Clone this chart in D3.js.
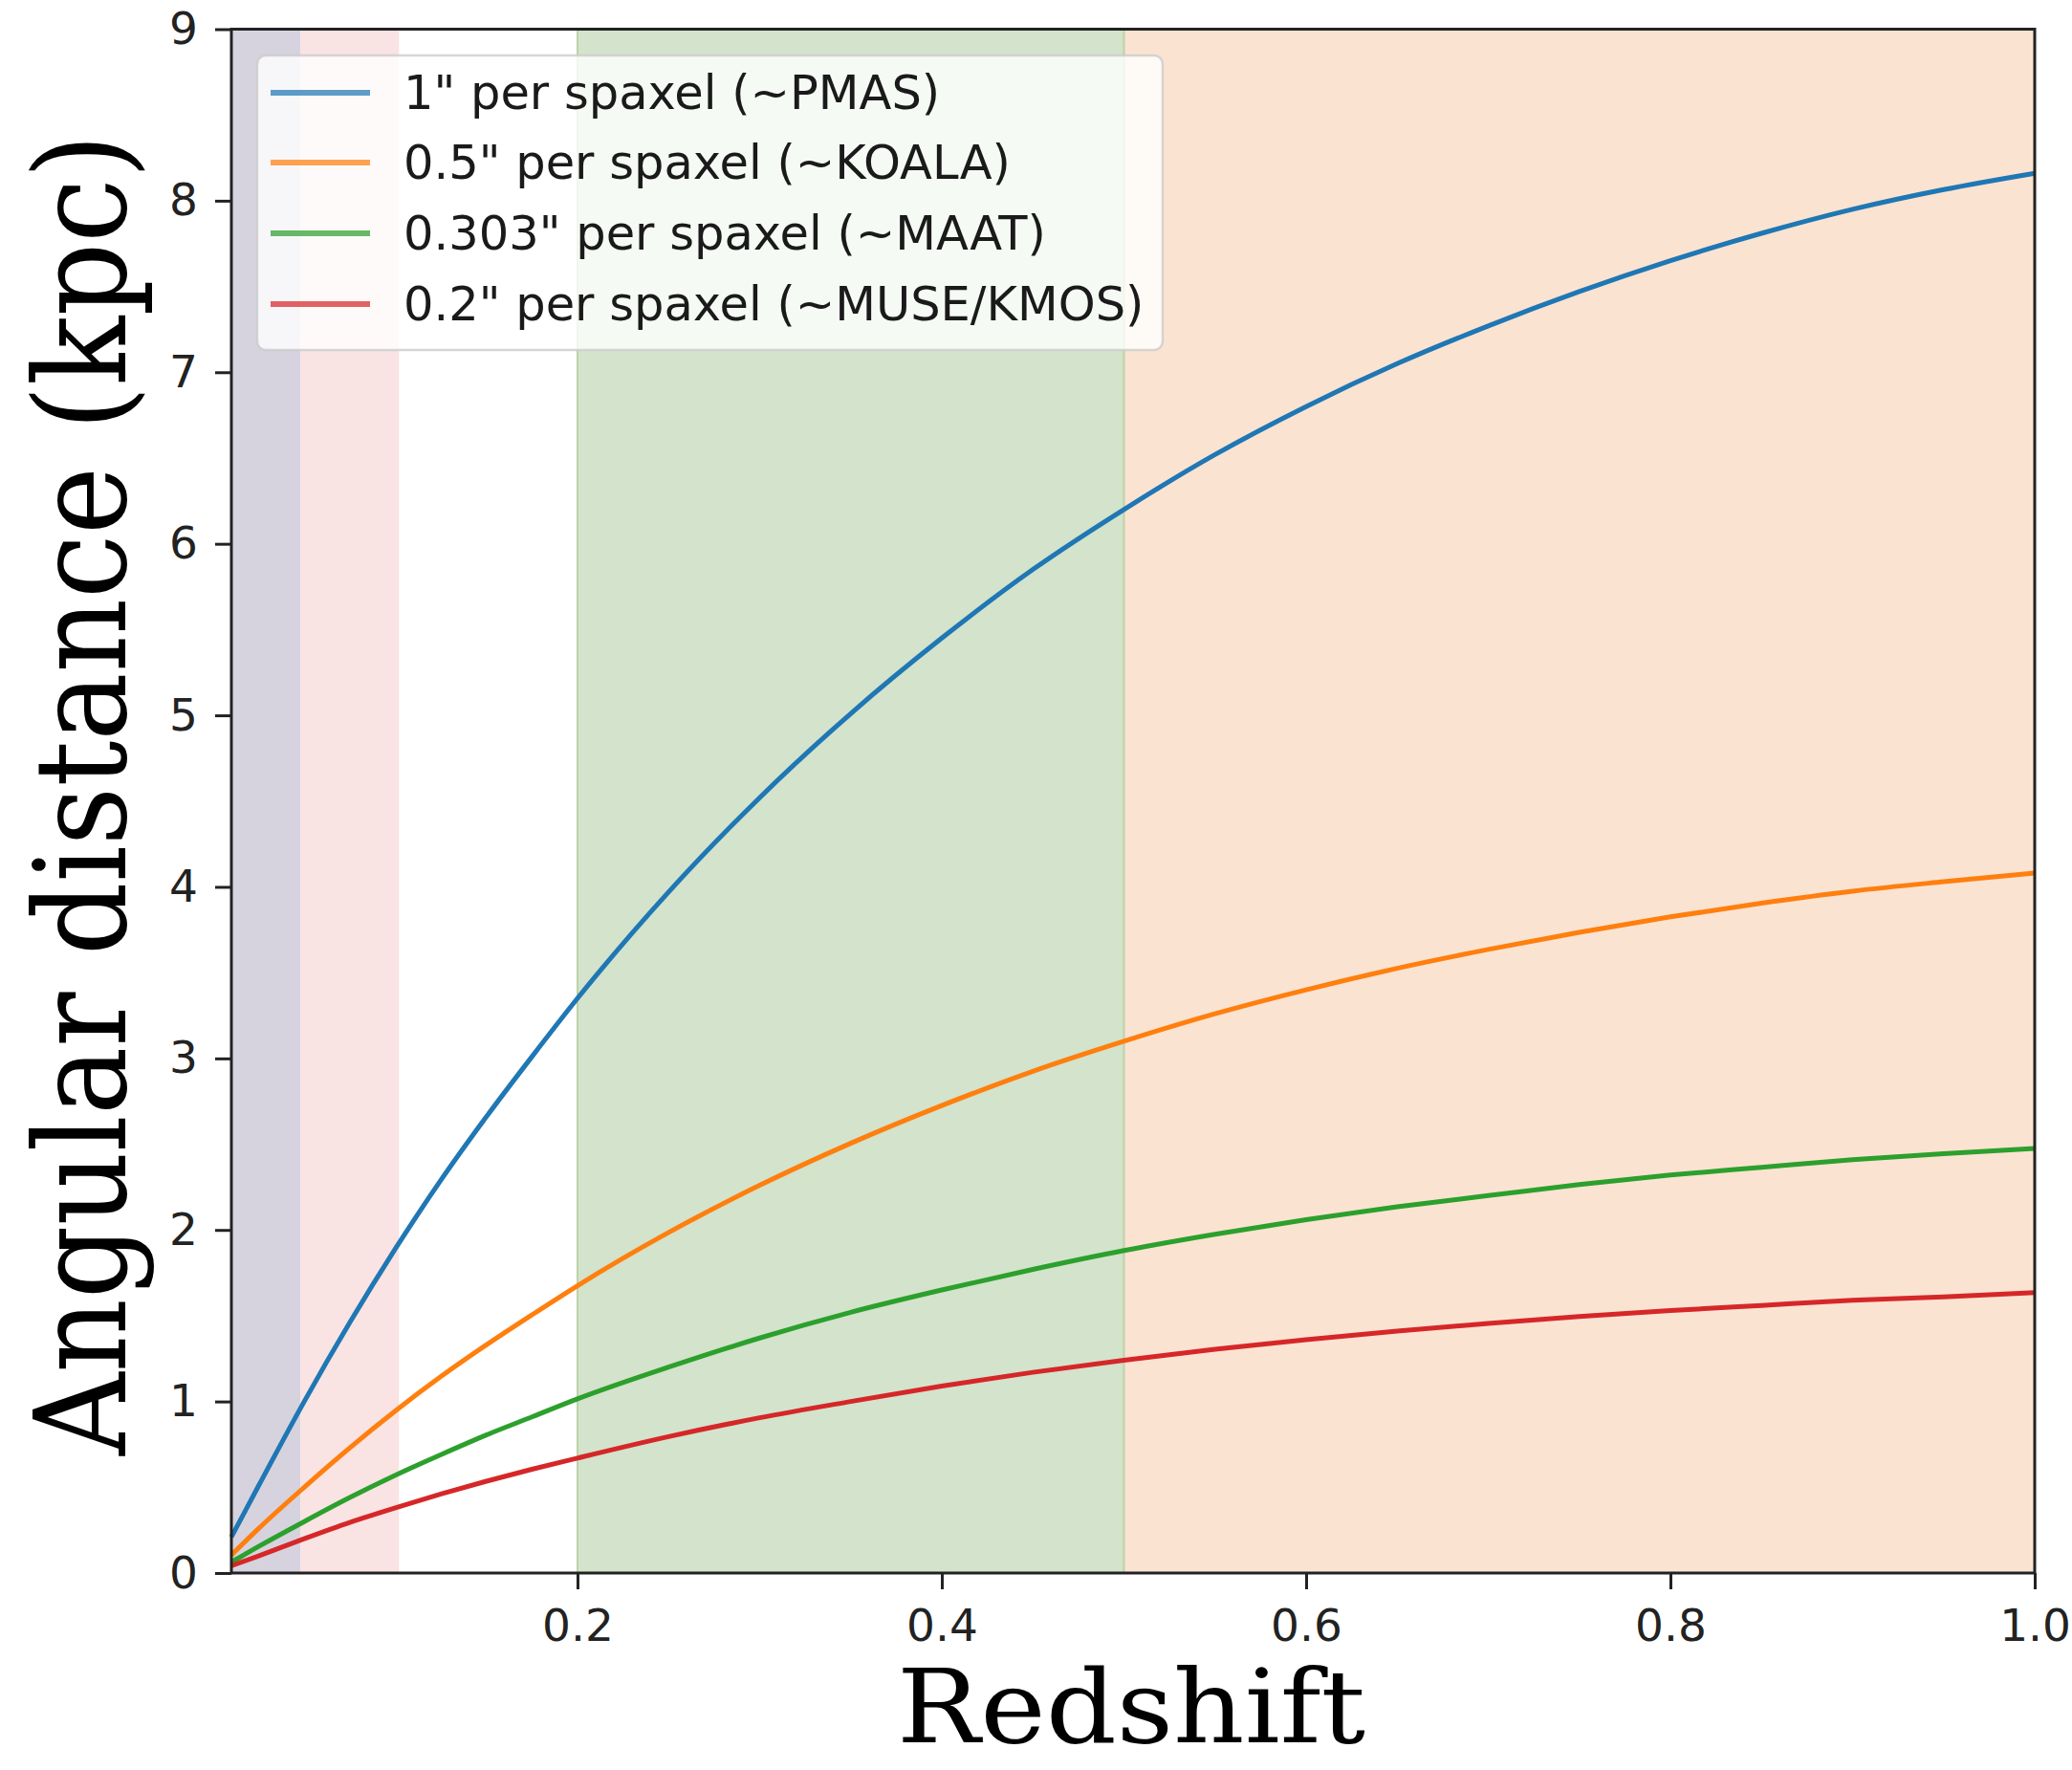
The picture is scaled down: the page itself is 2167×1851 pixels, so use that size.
<!DOCTYPE html>
<html>
<head>
<meta charset="utf-8">
<script src="https://cdn.jsdelivr.net/npm/d3@7"></script>
<style>
  html, body { margin: 0; padding: 0; background: #ffffff; }
  svg { display: block; }
</style>
</head>
<body>
<div id="chart"></div>
<script>
// ---------------- data ----------------
const redshift = [0.01, 0.025, 0.05, 0.075, 0.1, 0.125, 0.15, 0.175, 0.2, 0.25, 0.3, 0.35, 0.4, 0.45, 0.5,
                  0.55, 0.6, 0.65, 0.7, 0.75, 0.8, 0.85, 0.9, 0.95, 1.0];
const pmas   = [0.21, 0.51, 1.00, 1.46, 1.89, 2.29, 2.66, 3.01, 3.35, 3.97, 4.52, 5.01, 5.45, 5.85, 6.20,
                6.52, 6.80, 7.05, 7.27, 7.47, 7.65, 7.81, 7.95, 8.065, 8.16];
const koala  = [0.105, 0.26, 0.50, 0.73, 0.945, 1.145, 1.33, 1.505, 1.675, 1.985, 2.26, 2.505, 2.725, 2.925, 3.10,
                3.26, 3.40, 3.525, 3.635, 3.735, 3.825, 3.905, 3.975, 4.03, 4.08];
const maat   = [0.064, 0.155, 0.30, 0.44, 0.57, 0.69, 0.805, 0.91, 1.015, 1.20, 1.37, 1.52, 1.65, 1.77, 1.88,
                1.975, 2.06, 2.135, 2.20, 2.265, 2.32, 2.365, 2.41, 2.445, 2.475];
const muse   = [0.042, 0.10, 0.20, 0.295, 0.38, 0.46, 0.535, 0.605, 0.67, 0.795, 0.905, 1.00, 1.09, 1.17, 1.24,
                1.305, 1.36, 1.41, 1.455, 1.495, 1.53, 1.56, 1.59, 1.61, 1.635];
const seriesNames = ['1" per spaxel (~PMAS)', '0.5" per spaxel (~KOALA)',
                     '0.303" per spaxel (~MAAT)', '0.2" per spaxel (~MUSE/KMOS)'];
const seriesColors = ['#1f77b4', '#ff7f0e', '#2ca02c', '#d62728'];
const seriesValues = [pmas, koala, maat, muse];

const bandStart = [0.01, 0.048, 0.2, 0.5];
const bandEnd   = [0.048, 0.102, 0.5, 1.0];
const bandColors = ['#d6d3df', '#f9e3e3', '#d3e3cc', '#fbe3d2'];

const xTicks = [0.2, 0.4, 0.6, 0.8, 1.0];
const yTicks = [0, 1, 2, 3, 4, 5, 6, 7, 8, 9];
const xDomain = [0.01, 1.0];
const yDomain = [0, 9];

// ---------------- layout ----------------
const W = 2167, H = 1851;
const L = 242, R = 2128, T = 30.5, B = 1645;

const svg = d3.select('#chart').append('svg')
  .attr('width', W).attr('height', H).attr('viewBox', `0 0 ${W} ${H}`);

const x = d3.scaleLinear().domain(xDomain).range([L, R]);
const y = d3.scaleLinear().domain(yDomain).range([B, T]);

// bands
svg.append('g').selectAll('rect').data(bandStart).join('rect')
  .attr('x', (d) => x(d))
  .attr('y', T)
  .attr('width', (d, i) => x(bandEnd[i]) - x(d))
  .attr('height', B - T)
  .attr('fill', (d, i) => bandColors[i]);

// green band edges (axvspan edge)
svg.append('g').selectAll('line').data([bandStart[2], bandEnd[2]]).join('line')
  .attr('x1', d => x(d)).attr('x2', d => x(d))
  .attr('y1', T).attr('y2', B)
  .attr('stroke', '#bcd3a6').attr('stroke-width', 2);

// lines
const line = d3.line().x((d, i) => x(redshift[i])).y(d => y(d)).curve(d3.curveMonotoneX);
svg.append('g').selectAll('path').data(seriesValues).join('path')
  .attr('d', d => line(d))
  .attr('fill', 'none')
  .attr('stroke', (d, i) => seriesColors[i])
  .attr('stroke-width', 5)
  .attr('stroke-linejoin', 'round');

// axes
const tickFont = "'DejaVu Sans', sans-serif";
const xAxis = svg.append('g').attr('transform', `translate(0,${B})`)
  .call(d3.axisBottom(x).tickValues(xTicks).tickFormat(d3.format('.1f')).tickSize(17).tickPadding(21));
const yAxis = svg.append('g').attr('transform', `translate(${L},0)`)
  .call(d3.axisLeft(y).tickValues(yTicks).tickFormat(d3.format('d')).tickSize(17).tickPadding(18));
[xAxis, yAxis].forEach(g => {
  g.select('.domain').remove();
  g.selectAll('.tick line').attr('stroke', '#222').attr('stroke-width', 3);
  g.selectAll('.tick text').attr('font-family', tickFont).attr('font-size', 47)
    .attr('fill', '#222');
});

// frame
svg.append('rect').attr('x', L).attr('y', T).attr('width', R - L).attr('height', B - T)
  .attr('fill', 'none').attr('stroke', '#222').attr('stroke-width', 3);

// legend
const lg = svg.append('g');
lg.append('rect').attr('x', 269).attr('y', 58).attr('width', 947).attr('height', 308)
  .attr('rx', 9).attr('fill', 'rgba(255,255,255,0.8)')
  .attr('stroke', 'rgba(204,204,204,0.8)').attr('stroke-width', 2.5);
const rowY = [97, 170, 244, 318];
lg.selectAll('line.h').data(seriesNames).join('line')
  .attr('x1', 283).attr('x2', 387)
  .attr('y1', (d, i) => rowY[i]).attr('y2', (d, i) => rowY[i])
  .attr('stroke', (d, i) => seriesColors[i]).attr('stroke-width', 6)
  .attr('stroke-opacity', 0.72);
lg.selectAll('text').data(seriesNames).join('text')
  .attr('x', 422).attr('y', (d, i) => rowY[i]).attr('dy', '0.35em')
  .attr('font-family', tickFont).attr('font-size', 49.5).attr('fill', '#1a1a1a')
  .text(d => d);

// axis titles
svg.append('text').attr('x', 1183).attr('y', 1822)
  .attr('text-anchor', 'middle')
  .attr('font-family', "'DejaVu Serif', serif").attr('font-size', 106)
  .attr('textLength', 490).attr('lengthAdjust', 'spacingAndGlyphs')
  .attr('fill', '#000')
  .text('Redshift');
svg.append('text')
  .attr('transform', 'translate(131,831) rotate(-90)')
  .attr('text-anchor', 'middle')
  .attr('font-family', "'DejaVu Serif', serif").attr('font-size', 132)
  .attr('textLength', 1382).attr('lengthAdjust', 'spacingAndGlyphs')
  .attr('fill', '#000')
  .text('Angular distance (kpc)');
</script>
</body>
</html>
